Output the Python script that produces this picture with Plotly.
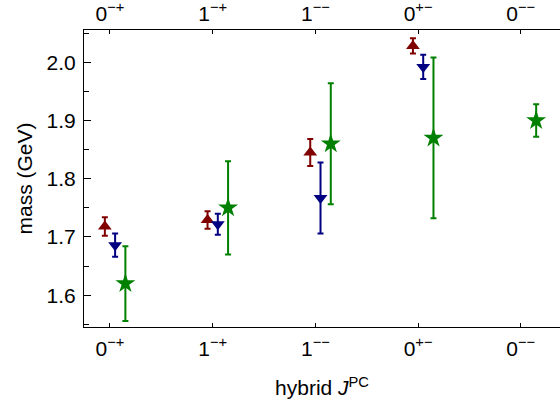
import plotly.graph_objects as go

categories = ["0<sup>\u2212+</sup>", "1<sup>\u2212+</sup>", "1<sup>\u2212\u2212</sup>", "0<sup>+\u2212</sup>", "0<sup>\u2212\u2212</sup>"]

red_mass = [1.718, 1.729, 1.845, 2.028, None]
red_err = [0.016, 0.015, 0.023, 0.013, None]

blue_mass = [1.686, 1.722, 1.767, 1.992, None]
blue_err = [0.020, 0.018, 0.061, 0.021, None]

green_mass = [1.620, 1.750, 1.860, 1.870, 1.900]
green_err = [0.064, 0.080, 0.104, 0.138, 0.028]

FONT = "Liberation Sans, Arial, sans-serif"
TF = dict(family=FONT, size=21, color="black")

fig = go.Figure()

def add_series(vals, errs, offset, color, symbol, size):
    xs, ys, es = [], [], []
    for i, (v, e) in enumerate(zip(vals, errs)):
        if v is None:
            continue
        xs.append(i + offset)
        ys.append(v)
        es.append(e)
    fig.add_trace(go.Scatter(
        x=xs, y=ys, mode="markers",
        marker=dict(symbol=symbol, size=size, color=color, line=dict(width=0)),
        error_y=dict(type="data", array=es, visible=True, color=color, thickness=2, width=3),
        showlegend=False,
    ))

add_series(red_mass, red_err, -0.05, "#800000", "triangle-up", 12)
add_series(blue_mass, blue_err, 0.05, "#000080", "triangle-down", 12)
add_series(green_mass, green_err, 0.15, "#008000", "star", 15)

fig.add_trace(go.Scatter(x=[0], y=[None], xaxis="x2", showlegend=False, mode="markers"))

xrange = [-0.253, 4.382]
tickvals = list(range(len(categories)))

fig.update_layout(
    width=560, height=405,
    margin=dict(l=84, r=0, t=30, b=78),
    paper_bgcolor="white", plot_bgcolor="white",
    font=dict(family=FONT, size=21, color="black"),
    xaxis=dict(
        range=xrange, tickvals=tickvals, ticktext=categories, tickfont=TF,
        ticks="inside", ticklen=4, tickwidth=1, tickcolor="black",
        showline=True, linecolor="black", linewidth=1.2,
        showgrid=False, zeroline=False, automargin=False, ticklabelstandoff=3,
        title=dict(text="hybrid <i>J</i><sup>PC</sup>", font=TF, standoff=21),
    ),
    xaxis2=dict(
        range=xrange, tickvals=tickvals, ticktext=categories, tickfont=TF,
        overlaying="x", side="top", anchor="y",
        ticks="inside", ticklen=4, tickwidth=1, tickcolor="black",
        showline=True, linecolor="black", linewidth=1.2,
        showgrid=False, zeroline=False, automargin=False, ticklabelstandoff=0,
    ),
    yaxis=dict(
        range=[1.5455, 2.0553], tickvals=[1.6, 1.7, 1.8, 1.9, 2.0],
        ticktext=["1.6", "1.7", "1.8", "1.9", "2.0"], tickfont=TF,
        ticks="inside", ticklen=7, tickwidth=1, tickcolor="black",
        minor=dict(tickvals=[1.55, 1.65, 1.75, 1.85, 1.95, 2.05], ticks="inside", ticklen=5, tickcolor="black", tickwidth=1),
        showline=True, linecolor="black", linewidth=1.2,
        showgrid=False, zeroline=False, automargin=False, ticklabelstandoff=3,
        title=dict(text="mass (GeV)", font=TF, standoff=8),
    ),
)

fig.write_html("out.html", post_script="document.body.style.margin='0';",
               config={"displayModeBar": False})
